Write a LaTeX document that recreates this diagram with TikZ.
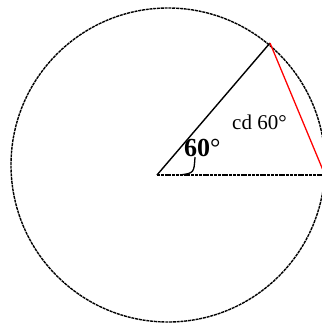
\documentclass[tikz,border=0pt]{standalone}
\usepackage{fontspec}
\setmainfont{Liberation Serif}
\usetikzlibrary{calc}

\begin{document}
\begin{tikzpicture}[x=1pt,y=1pt]
            \tikzset{
                rim/.style={draw=black,line width=1.4pt,dash pattern=on 3pt off 0.8pt},
                radius line/.style={draw=black,line width=1.4pt},
                chord/.style={draw=red,line width=1.3pt},
                angle mark/.style={draw=black,line width=1.3pt},
                label/.style={inner sep=0pt,anchor=base west},
            }
            \useasboundingbox (0,0) rectangle (322,325);

            \coordinate (centre) at (168,160);
            \coordinate (O) at (157,150);
            \coordinate (P) at (270,282);
            \coordinate (A) at (325,150);

            \draw[rim] (centre) circle[radius=157];
            \draw[rim] (O) -- (A);
            \draw[radius line] (O) -- (P);
            \draw[chord] (P) -- (A);
            \draw[angle mark] (180,150) .. controls (194,152) .. (195,168);

            \node[label,font=\fontsize{26}{26}\selectfont] (angle) at (184,168) {\textbf{60}°};
            \node[label,font=\fontsize{21}{21}\selectfont] (cdlabel) at (232,196) {cd 60°};
        \end{tikzpicture}
\end{document}
